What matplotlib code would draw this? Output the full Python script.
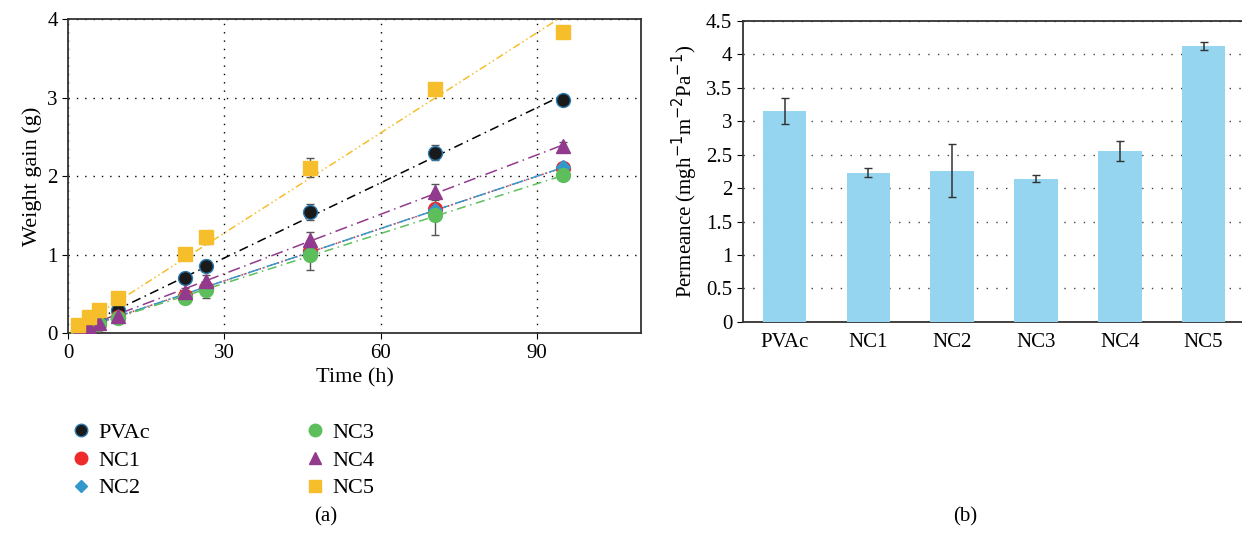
import numpy as np
import matplotlib.pyplot as plt
from matplotlib.lines import Line2D

plt.rcParams['font.family'] = ['Liberation Serif', 'DejaVu Serif']

# Datos (a): ganancia de peso vs tiempo
time_h = [2, 4, 6, 9.5, 22.5, 26.5, 46.5, 70.5, 95]
pvac = [0.03, 0.10, 0.15, 0.30, 0.70, 0.86, 1.54, 2.30, 2.97]
nc1 = [0.02, 0.07, 0.12, 0.20, 0.47, 0.58, 1.05, 1.58, 2.10]
nc2 = [0.02, 0.07, 0.12, 0.20, 0.47, 0.58, 1.03, 1.57, 2.12]
nc3 = [0.01, 0.06, 0.11, 0.19, 0.45, 0.55, 0.99, 1.50, 2.01]
nc4 = [0.02, 0.08, 0.13, 0.22, 0.52, 0.66, 1.19, 1.80, 2.39]
nc5 = [0.10, 0.20, 0.29, 0.45, 1.01, 1.22, 2.11, 3.11, 3.84]
err_pvac = [0.01, 0.01, 0.02, 0.03, 0.04, 0.07, 0.10, 0.10, 0.03]
err_nc1 = [0.01, 0.01, 0.02, 0.03, 0.04, 0.06, 0.08, 0.08, 0.05]
err_nc2 = [0.01, 0.01, 0.02, 0.03, 0.04, 0.06, 0.08, 0.08, 0.05]
err_nc3 = [0.01, 0.01, 0.02, 0.03, 0.04, 0.10, 0.18, 0.25, 0.03]
err_nc4 = [0.01, 0.01, 0.02, 0.03, 0.06, 0.08, 0.10, 0.10, 0.04]
err_nc5 = [0.01, 0.01, 0.02, 0.03, 0.03, 0.08, 0.12, 0.05, 0.03]

# Datos (b): permeancia
samples = ['PVAc', 'NC1', 'NC2', 'NC3', 'NC4', 'NC5']
permeance = [3.15, 2.23, 2.26, 2.14, 2.55, 4.13]
perm_err = [0.19, 0.07, 0.40, 0.05, 0.15, 0.06]

series = [
    ('PVAc', pvac, err_pvac, 'o', '#1a1a1a', '#2b7bb0', 'k', (0, (6, 3, 1, 3)), 10),
    ('NC1', nc1, err_nc1, 'o', '#ee2a2a', '#ee2a2a', '#ee2a2a', (0, (1, 1.5)), 10),
    ('NC2', nc2, err_nc2, 'D', '#3399cc', '#3399cc', '#3399cc', (0, (8, 2, 1, 2)), 7.5),
    ('NC3', nc3, err_nc3, 'o', '#5cbf5c', '#5cbf5c', '#5cbf5c', (0, (6, 3, 1, 3)), 10),
    ('NC4', nc4, err_nc4, '^', '#923b8e', '#923b8e', '#923b8e', (0, (8, 3, 1, 3)), 10),
    ('NC5', nc5, err_nc5, 's', '#f7be2b', '#f7be2b', '#f7be2b', (0, (5, 2, 1, 2, 1, 2)), 10),
]

fig = plt.figure(figsize=(12.42, 5.33), dpi=100)
ax1 = fig.add_axes([0.0548, 0.375, 0.4612, 0.589])
ax2 = fig.add_axes([0.598, 0.396, 0.45, 0.565])

t = np.array(time_h)
handles = []
for name, y, e, m, fc, ec, lc, ls, ms in series:
    y = np.array(y)
    ax1.errorbar(t, y, yerr=e, fmt='none', ecolor='#555555', elinewidth=1, capsize=3, zorder=2)
    # ajuste lineal por el origen
    k = np.sum(t * y) / np.sum(t * t)
    tt = np.array([t[0], t[-1]])
    ax1.plot(tt, k * tt, color=lc, linestyle=ls, linewidth=1.1, zorder=3)
    ax1.plot(t, y, linestyle='none', marker=m, markersize=ms, markerfacecolor=fc,
             markeredgecolor=ec, markeredgewidth=1, zorder=4)
    handles.append(Line2D([], [], linestyle='none', marker=m, markersize=ms - 1,
                          markerfacecolor=fc, markeredgecolor=ec, label=name))

ax1.set_xlim(0, 110)
ax1.set_ylim(0, 4)
ax1.set_xticks([0, 30, 60, 90])
ax1.set_yticks([0, 1, 2, 3, 4])
ax1.grid(True, linestyle=(0, (1, 5)), color='k', linewidth=1)
ax1.set_axisbelow(True)
ax1.tick_params(labelsize=15, direction='out', length=4)
ax1.set_xlabel('Time (h)', fontsize=16)
ax1.set_ylabel('Weight gain (g)', fontsize=16)
for s in ax1.spines.values():
    s.set_color('#333333')
    s.set_linewidth(1.3)

fig.legend(handles=handles, ncol=2, loc='upper left', bbox_to_anchor=(0.04, 0.245),
           frameon=False, fontsize=16, columnspacing=6.9, handletextpad=0.3,
           labelspacing=0.32, handlelength=1.0)

x = np.arange(len(samples))
ax2.bar(x, permeance, width=0.52, color='#95d5ef', zorder=3)
ax2.errorbar(x, permeance, yerr=perm_err, fmt='none', ecolor='#333333',
             elinewidth=1.1, capsize=3, zorder=4)
ax2.set_xlim(-0.5, 6.17)
ax2.set_ylim(0, 4.5)
ax2.set_yticks(np.arange(0, 4.51, 0.5))
ax2.set_yticklabels(['0', '0.5', '1', '1.5', '2', '2.5', '3', '3.5', '4', '4.5'])
ax2.set_xticks(x)
ax2.set_xticklabels(samples)
ax2.yaxis.grid(True, linestyle=(0, (1, 6)), color='#444444', linewidth=1)
ax2.tick_params(axis='y', labelsize=15, direction='out', length=4)
ax2.tick_params(axis='x', labelsize=15, length=0, pad=8)
ax2.spines['right'].set_visible(False)
for s in ['left', 'bottom', 'top']:
    ax2.spines[s].set_color('#333333')
    ax2.spines[s].set_linewidth(1.3)
ax2.set_ylabel('Permeance (mgh$^{-1}$m$^{-2}$Pa$^{-1}$)', fontsize=15)

fig.text(0.262, 0.022, '(a)', ha='center', fontsize=15)
fig.text(0.777, 0.022, '(b)', ha='center', fontsize=15)

fig.savefig('out.png', dpi=100)
